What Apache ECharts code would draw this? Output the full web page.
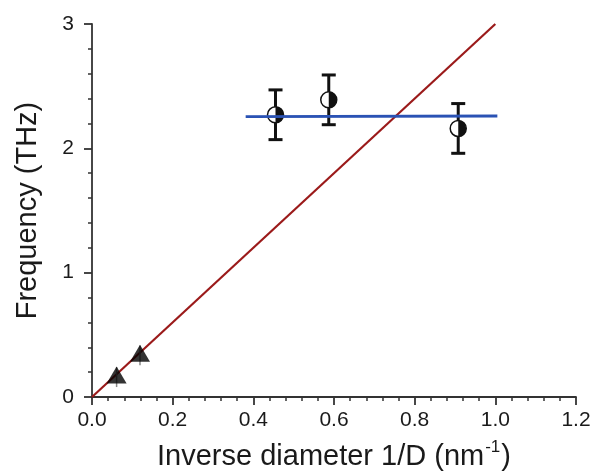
<!DOCTYPE html>
<html>
<head>
<meta charset="utf-8">
<script src="https://cdn.jsdelivr.net/npm/echarts@6/dist/echarts.min.js"></script>
<style>
html,body{margin:0;padding:0;background:#fff;}
#chart{width:594px;height:471px;}
</style>
</head>
<body>
<div id="chart"></div>
<script>
// ---- data ----
const xTickLabels = ['0.0','0.2','0.4','0.6','0.8','1.0','1.2'];
const yTickLabels = ['0','1','2','3'];
const redLineX = [0.0, 1.0];
const redLineY = [0.0, 3.0];
const blueLineX = [0.381, 1.005];
const blueLineY = [2.255, 2.26];
const circleX = [0.455, 0.587, 0.908];
const circleY = [2.27, 2.39, 2.16];
const circleErr = [0.2, 0.2, 0.2];
const triX = [0.061, 0.119];
const triY = [0.16, 0.335];
const triErr = [0.08, 0.08];

const FONT = '"Liberation Sans", Arial, sans-serif';
const chart = echarts.init(document.getElementById('chart'));

const circleData = circleX.map((x, i) => [x, circleY[i], circleErr[i]]);
const triData = triX.map((x, i) => [x, triY[i], triErr[i]]);

function circleItem(params, api) {
  const x = api.value(0), y = api.value(1), e = api.value(2);
  const c = api.coord([x, y]);
  const t = api.coord([x, y + e]);
  const b = api.coord([x, y - e]);
  const r = 8, cap = 7;
  const st = {stroke: '#111', lineWidth: 3};
  return {
    type: 'group',
    children: [
      {type: 'line', shape: {x1: c[0], y1: t[1], x2: c[0], y2: b[1]}, style: st},
      {type: 'line', shape: {x1: c[0] - cap, y1: t[1], x2: c[0] + cap, y2: t[1]}, style: st},
      {type: 'line', shape: {x1: c[0] - cap, y1: b[1], x2: c[0] + cap, y2: b[1]}, style: st},
      {type: 'circle', shape: {cx: c[0], cy: c[1], r: r}, style: {fill: '#fff', stroke: '#111', lineWidth: 1.5}},
      {type: 'sector', shape: {cx: c[0], cy: c[1], r: r, r0: 0, startAngle: -Math.PI / 2, endAngle: Math.PI / 2, clockwise: true}, style: {fill: '#111'}}
    ]
  };
}

function triErrItem(params, api) {
  const x = api.value(0), y = api.value(1), e = api.value(2);
  const t = api.coord([x, y + e]);
  const b = api.coord([x, y - e]);
  return {
    type: 'line',
    shape: {x1: t[0], y1: t[1], x2: b[0], y2: b[1]},
    style: {stroke: '#888', lineWidth: 1.5}
  };
}

chart.setOption({
  animation: false,
  backgroundColor: '#fff',
  grid: {left: 92, right: 18, top: 24, bottom: 74, containLabel: false, outerBoundsMode: 'none'},
  xAxis: {
    type: 'value', min: 0, max: 1.2, interval: 0.2,
    name: '{a|Inverse diameter 1/D (nm}{s|-1}{a|)}',
    nameLocation: 'middle', nameGap: 42,
    nameTextStyle: {
      rich: {
        a: {fontFamily: FONT, fontSize: 29, color: '#1a1a1a', verticalAlign: 'bottom', lineHeight: 32},
        s: {fontFamily: FONT, fontSize: 17, color: '#1a1a1a', verticalAlign: 'top', lineHeight: 32, padding: [0, 1, 14, 1]}
      }
    },
    axisLine: {lineStyle: {color: '#333', width: 1.8}},
    axisTick: {show: true, length: 8, lineStyle: {color: '#333', width: 1.8}},
    minorTick: {show: true, splitNumber: 5, length: 4, lineStyle: {color: '#333', width: 1.5}},
    splitLine: {show: false},
    axisLabel: {
      fontFamily: FONT, fontSize: 21, color: '#1a1a1a', margin: 13,
      formatter: (v) => xTickLabels[Math.round(v / 0.2)]
    }
  },
  yAxis: {
    type: 'value', min: 0, max: 3, interval: 1,
    name: 'Frequency (THz)',
    nameLocation: 'middle', nameGap: 50,
    nameTextStyle: {fontFamily: FONT, fontSize: 29, color: '#1a1a1a'},
    axisLine: {lineStyle: {color: '#333', width: 1.8}},
    axisTick: {show: true, length: 8, lineStyle: {color: '#333', width: 1.8}},
    minorTick: {show: true, splitNumber: 5, length: 4, lineStyle: {color: '#333', width: 1.5}},
    splitLine: {show: false},
    axisLabel: {
      fontFamily: FONT, fontSize: 21, color: '#1a1a1a', margin: 18,
      formatter: (v) => yTickLabels[Math.round(v)]
    }
  },
  series: [
    {
      type: 'line', z: 2,
      data: redLineX.map((x, i) => [x, redLineY[i]]),
      showSymbol: false, symbol: 'none',
      lineStyle: {color: '#9b1a1a', width: 2.2}
    },
    {
      type: 'custom', z: 3,
      renderItem: triErrItem,
      data: triData
    },
    {
      type: 'scatter', z: 4,
      symbol: 'triangle', symbolSize: [20, 17], symbolOffset: [0, -2],
      itemStyle: {color: '#000'},
      data: triData.map(d => [d[0], d[1]])
    },
    {
      type: 'custom', z: 5,
      renderItem: circleItem,
      data: circleData
    },
    {
      type: 'line', z: 6,
      data: blueLineX.map((x, i) => [x, blueLineY[i]]),
      showSymbol: false, symbol: 'none',
      lineStyle: {color: '#2a52b4', width: 2.8}
    }
  ]
});
</script>
</body>
</html>
